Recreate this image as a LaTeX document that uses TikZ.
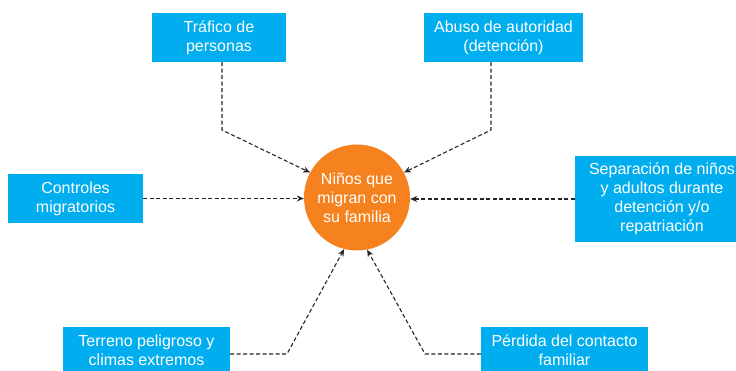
\documentclass[tikz,border=0pt]{standalone}
\usepackage{fontspec}
\setmainfont{Liberation Sans}
\usetikzlibrary{arrows.meta,calc}
\definecolor{boxblue}{HTML}{00AEEF}
\definecolor{circorange}{HTML}{F5821F}
\definecolor{lineGrey}{HTML}{262626}
\begin{document}
\begin{tikzpicture}[x=1pt,y=-1pt,
  box/.style={fill=boxblue,text=white,align=center,inner sep=0pt,
    font=\fontsize{16}{19}\selectfont},
  btext/.style={anchor=base,text=white,align=center,inner sep=0pt,
    font=\fontsize{16}{19}\selectfont},
  hub/.style={circle,fill=circorange,text=white,align=center,inner sep=0pt,
    minimum size=106pt,font=\fontsize{16}{19}\selectfont},
  link/.style={draw=lineGrey,line width=1.1pt,dash pattern=on 4pt off 2.5pt,
    -{Stealth[length=7pt,width=6pt]}}]
\clip (0,0) rectangle (736,371);
\fill[white] (0,0) rectangle (736,371);
\node[hub] (circ) at (357,197.5) {Niños que\\migran con\\su familia};
\node[box,minimum width=134pt,minimum height=49pt] (traf) at (219,37.5) {Tráfico de\\personas};
\node[box,minimum width=159pt,minimum height=49pt] (abuso) at (503.5,37.5) {Abuso de autoridad\\(detención)};
\node[box,minimum width=135pt,minimum height=49pt] (contr) at (75.5,198.5) {Controles\\migratorios};
\node[box,minimum width=174pt,minimum height=86pt] (sep) at (662,199) {Separación de niños\\y adultos durante\\detención y/o\\repatriación};
\node[box,minimum width=167pt,minimum height=49pt] (terr) at (146.5,351.5) {};
\node[btext] (terrT) at (146.5,365.5) {Terreno peligroso y\\climas extremos};
\node[box,minimum width=167pt,minimum height=49pt] (perd) at (564.5,351.5) {};
\node[btext] (perdT) at (564.5,365.5) {Pérdida del contacto\\familiar};
\coordinate (t1) at (222,130);
\coordinate (a1) at (491,130);
\coordinate (r1) at (287,354);
\coordinate (p1) at (425,354);
\draw[link] (traf.south -| t1) -- (t1) -- (circ.152);
\draw[link] (abuso.south -| a1) -- (a1) -- (circ.28);
\draw[link] (contr.east) -- (contr.east -| circ.west);
\draw[link] (sep.west) -- (sep.west -| circ.east);
\draw[link] (terr.east |- r1) -- (r1) -- (circ.256);
\draw[link] (perd.west |- p1) -- (p1) -- (circ.281);
\end{tikzpicture}
\end{document}
